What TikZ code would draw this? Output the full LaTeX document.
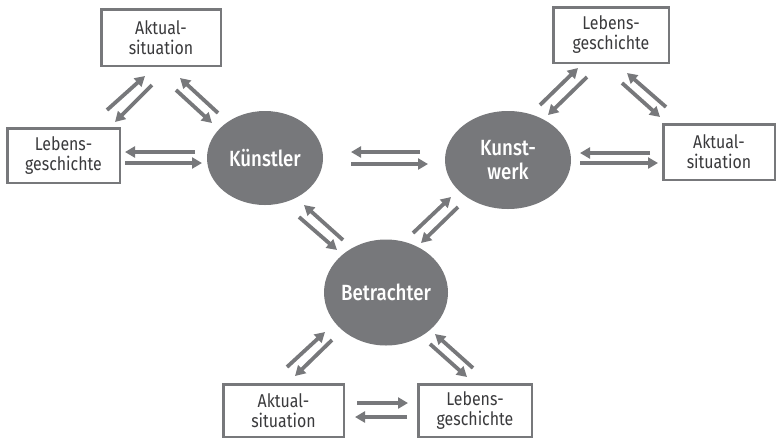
\documentclass[tikz,border=0pt]{standalone}
\usepackage{fontspec}
\setmainfont{Fira Sans}[FakeStretch=0.86]
\newfontfamily\ellfont{Fira Sans Medium}[FakeStretch=0.85]
\usetikzlibrary{arrows.meta,calc}
\definecolor{gr}{HTML}{77787B}
\definecolor{tx}{HTML}{3A3A3C}
\begin{document}
\begin{tikzpicture}[x=1pt,y=-1pt,
  box/.style={draw=gr,line width=2.5pt,fill=white,text=tx,inner sep=0pt,align=center,
    font=\fontsize{18.5}{20}\selectfont},
  elltext/.style={text=white,font=\ellfont\fontsize{22}{24}\selectfont,align=center,inner sep=0pt},
  arr/.style={draw=gr,line width=3.8pt,-{Triangle[length=10pt,width=11pt]}}]
\useasboundingbox (0,0) rectangle (778,440);
% boxes
\node[box,minimum width=119.5pt,minimum height=56.5pt] (A1) at (161,37.5) {Aktual-\\situation};
\node[box,minimum width=112.5pt,minimum height=54.5pt] (L1) at (63.5,155.5) {Lebens-\\geschichte};
\node[box,minimum width=115.5pt,minimum height=55.5pt] (L2) at (611,35) {Lebens-\\geschichte};
\node[box,minimum width=111.5pt,minimum height=55.5pt] (A2) at (719,152) {Aktual-\\situation};
\node[box,minimum width=120.5pt,minimum height=52.5pt] (A3) at (283.5,410.5) {Aktual-\\situation};
\node[box,minimum width=113.5pt,minimum height=52.5pt] (L3) at (475,410.5) {Lebens-\\geschichte};
% ellipses
\draw[fill=gr,draw=none] (265,158) ellipse [x radius=58pt,y radius=47pt];
\node[elltext,minimum width=116pt,minimum height=94pt] (K) at (265,158) {Künstler};
\draw[fill=gr,draw=none] (508,160) ellipse [x radius=63pt,y radius=49pt];
\node[elltext,minimum width=126pt,minimum height=98pt] (W) at (508,160) {Kunst-\\werk};
\draw[fill=gr,draw=none] (386,292.5) ellipse [x radius=62pt,y radius=53pt];
\node[elltext,minimum width=124pt,minimum height=106pt] (B) at (386,292.5) {Betrachter};
% arrows
\newcommand{\ar}[6]{\draw[arr] ($(#1)+(#2,#3)$) -- ($(#4)+(#5,#6)$);}
\ar{L1}{43.5}{-45.5}{A1}{-16}{38.5}
\ar{A1}{-9}{47.5}{L1}{51.5}{-33.5}
\ar{K}{-47}{-45}{A1}{19}{40.5}
\ar{A1}{15}{52.5}{K}{-53}{-35}
\ar{K}{-70}{-6}{L1}{61.5}{-3.5}
\ar{L1}{61.5}{7.5}{K}{-63}{5}
\ar{W}{-88}{-8}{K}{86}{-6}
\ar{K}{86}{6}{W}{-80}{4}
\ar{W}{32}{-55}{L2}{-33}{33}
\ar{L2}{-24}{42}{W}{40}{-45}
\ar{A2}{-53}{-45}{L2}{16}{38}
\ar{L2}{11}{48}{A2}{-59}{-35}
\ar{A2}{-69}{1}{W}{72}{-7}
\ar{W}{72}{3}{A2}{-61}{11}
\ar{B}{-43}{-52.5}{K}{39}{47}
\ar{K}{34}{59}{B}{-49}{-42.5}
\ar{B}{27}{-59.5}{W}{-57}{37}
\ar{W}{-50}{47}{B}{35}{-49.5}
\ar{A3}{3.5}{-43.5}{B}{-61}{39.5}
\ar{B}{-54}{47.5}{A3}{11.5}{-34.5}
\ar{L3}{-2}{-42.5}{B}{49}{41.5}
\ar{B}{44}{51.5}{L3}{-8}{-33.5}
\ar{A3}{73.5}{-7.5}{L3}{-67}{-7.5}
\ar{L3}{-68}{6.5}{A3}{71.5}{6.5}
\end{tikzpicture}
\end{document}
